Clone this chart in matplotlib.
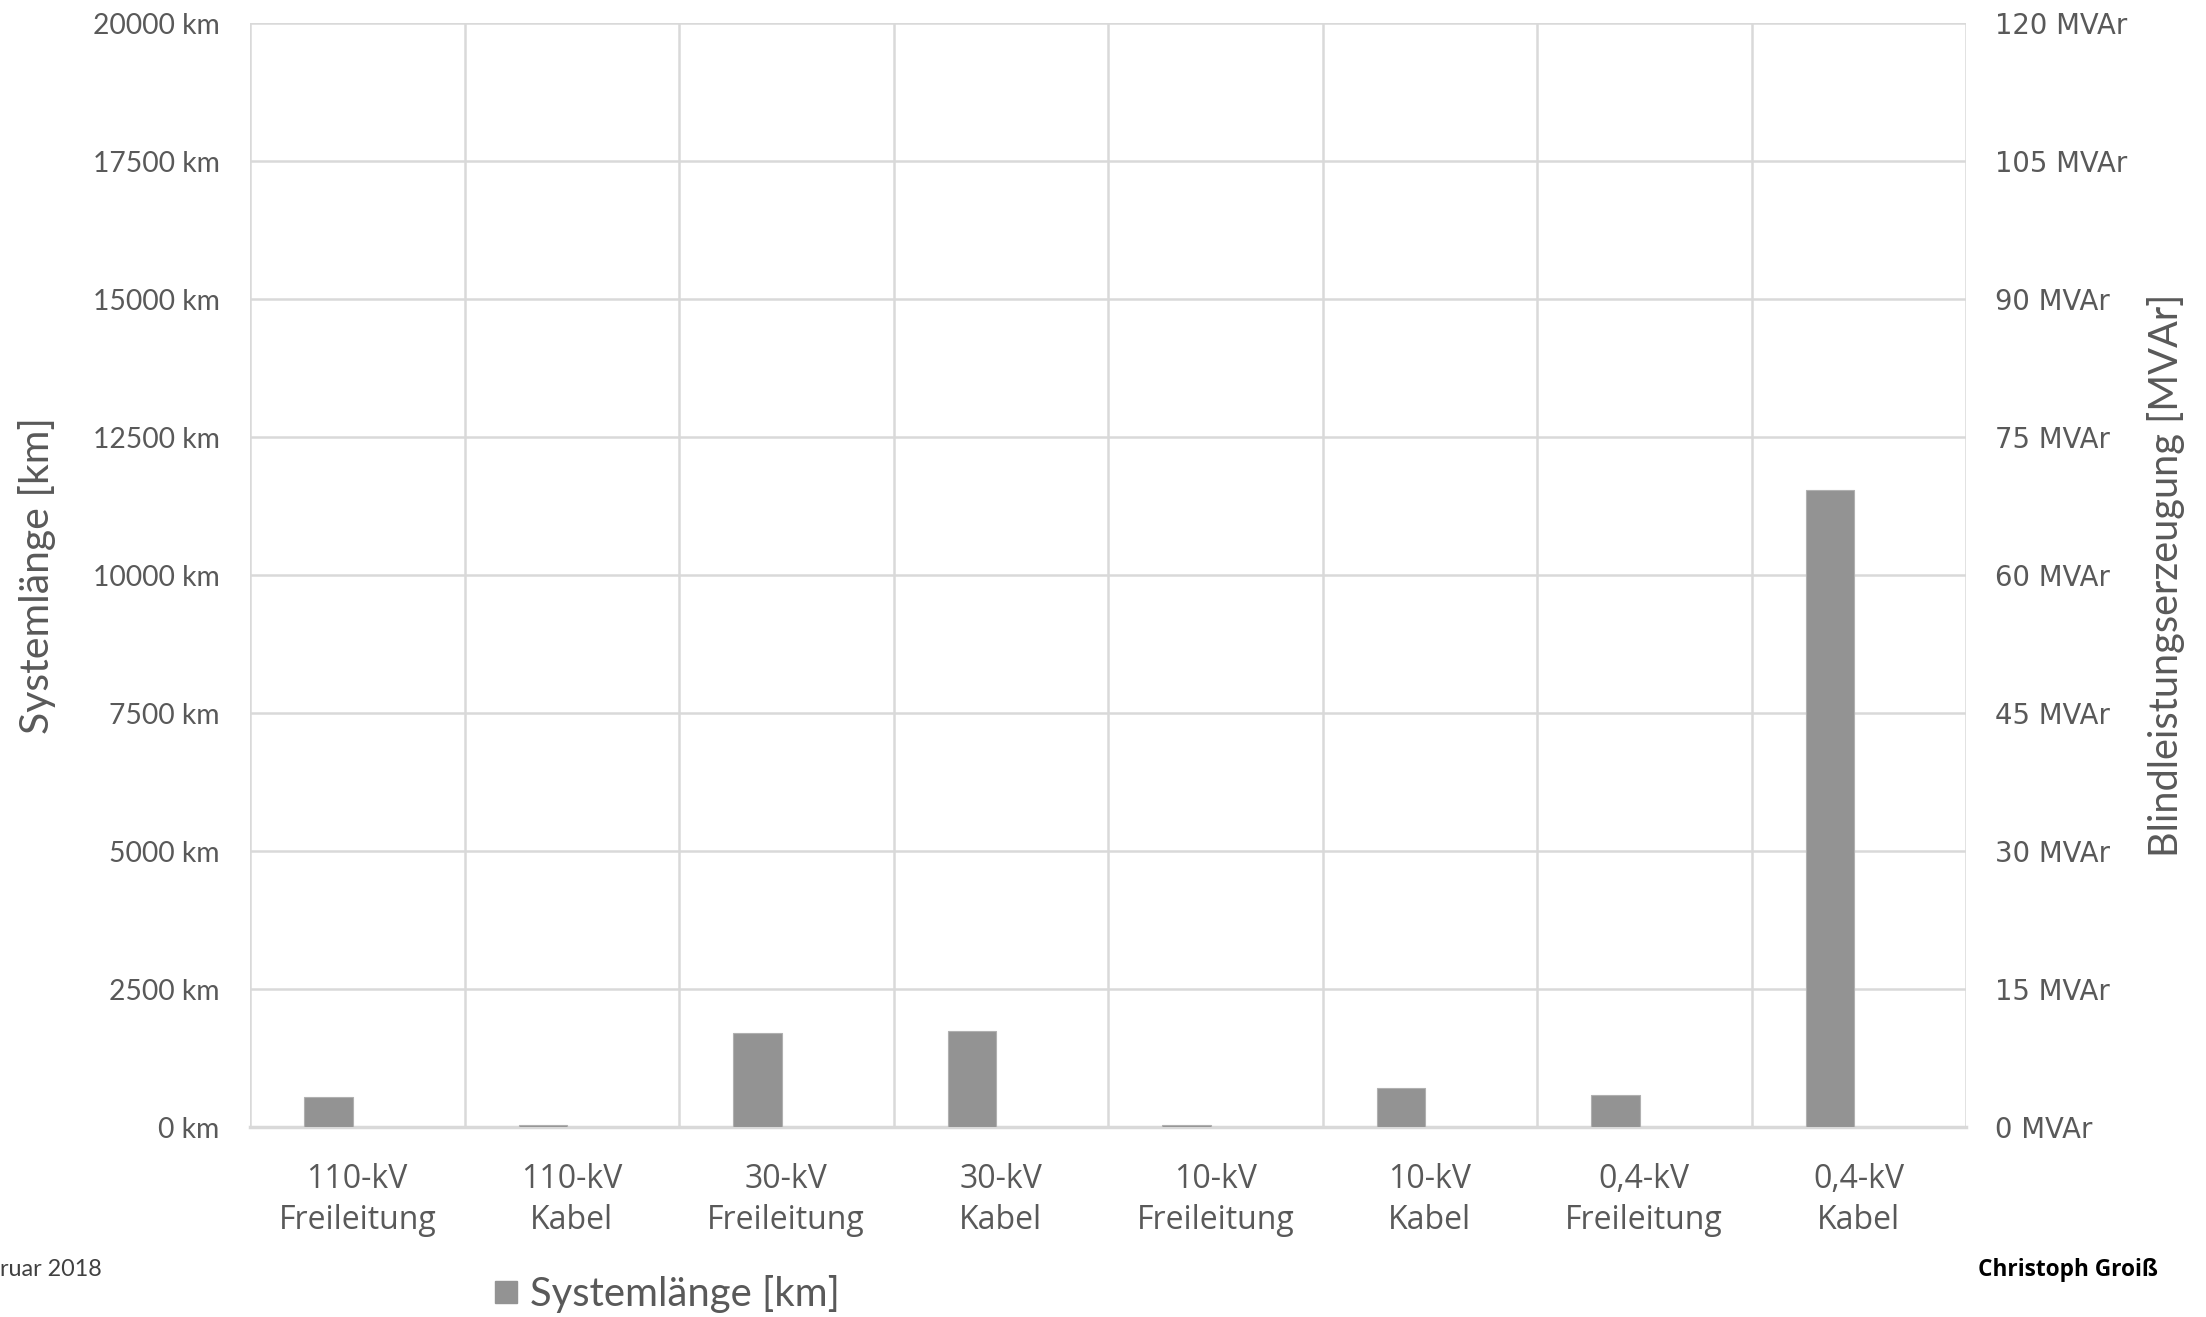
import matplotlib
matplotlib.use('Agg')
import matplotlib.pyplot as plt
from matplotlib.lines import Line2D
import numpy as np

# data
categories = ['110-kV\nFreileitung', '110-kV\nKabel', '30-kV\nFreileitung', '30-kV\nKabel',
              '10-kV\nFreileitung', '10-kV\nKabel', '0,4-kV\nFreileitung', '0,4-kV\nKabel']
systemlaenge_km = [545, 40, 1705, 1745, 40, 705, 580, 11545]
left_ticks = [0, 2500, 5000, 7500, 10000, 12500, 15000, 17500, 20000]
right_ticks = [0, 15, 30, 45, 60, 75, 90, 105, 120]

grid_col = '#d9d9d9'
text_col = '#595959'
bar_col = '#939393'

fig = plt.figure(figsize=(22.06, 13.17), dpi=100)
ax = fig.add_axes([250 / 2206, 1 - 1127 / 1317, (1966 - 250) / 2206, (1127 - 23.3) / 1317])

x = np.arange(len(categories))
ax.bar(x - 0.134, systemlaenge_km, width=0.226, color=bar_col, edgecolor='#b0b0b0',
       linewidth=0.8, zorder=3)

ax.set_xlim(-0.5, len(categories) - 0.5)
ax.set_ylim(0, 20000)
ax.set_yticks(left_ticks)
ax.set_yticklabels(['%d km' % t for t in left_ticks], fontfamily='Lato', fontsize=20.3, color=text_col)
ax.set_xticks(x)
ax.set_xticklabels(categories, fontfamily='Open Sans', fontsize=23, color=text_col, linespacing=1.33)
ax.tick_params(axis='both', length=0)
ax.tick_params(axis='x', pad=26)
ax.tick_params(axis='y', pad=22)

# gridlines
for v in left_ticks[1:]:
    ax.axhline(v, color=grid_col, lw=1.8, zorder=1)
for b in np.arange(-0.5, len(categories), 1.0):
    ax.axvline(b, color=grid_col, lw=1.8, zorder=1)
for s in ['top', 'left', 'right']:
    ax.spines[s].set_visible(False)
ax.spines['bottom'].set_color(grid_col)
ax.spines['bottom'].set_linewidth(2.5)

ax.set_ylabel('Systemlänge [km]', fontfamily='Lato', fontsize=29.5, color=text_col, labelpad=26)

ax2 = ax.twinx()
ax2.set_ylim(0, 120)
ax2.set_yticks(right_ticks)
ax2.set_yticklabels(['%d MVAr' % t for t in right_ticks], fontfamily='DejaVu Sans', fontsize=19.8,
                    color=text_col)
ax2.tick_params(axis='y', length=0, pad=21)
for s in ax2.spines.values():
    s.set_visible(False)
ax2.set_ylabel('Blindleistungserzeugung [MVAr]', fontfamily='Lato', fontsize=28.6, color=text_col,
               labelpad=14)

handle = Line2D([], [], marker='s', linestyle='none', markersize=16, color=bar_col)
fig.legend([handle], ['Systemlänge [km]'], loc='center', bbox_to_anchor=(653 / 2206, 1 - 1294 / 1317),
           frameon=False, prop={'family': 'Lato', 'size': 28.8}, labelcolor=text_col,
           handletextpad=-0.4, borderaxespad=0)

fig.text(0, 1 - 1270 / 1317, 'ruar 2018', fontfamily='Lato', fontsize=16.8, color='#404040',
         ha='left', va='center')
fig.text(2158 / 2206, 1 - 1270 / 1317, 'Christoph Groiß', fontfamily='Open Sans', fontsize=16.3,
         fontweight='bold', color='black', ha='right', va='center')

fig.savefig('out.png', dpi=100)
